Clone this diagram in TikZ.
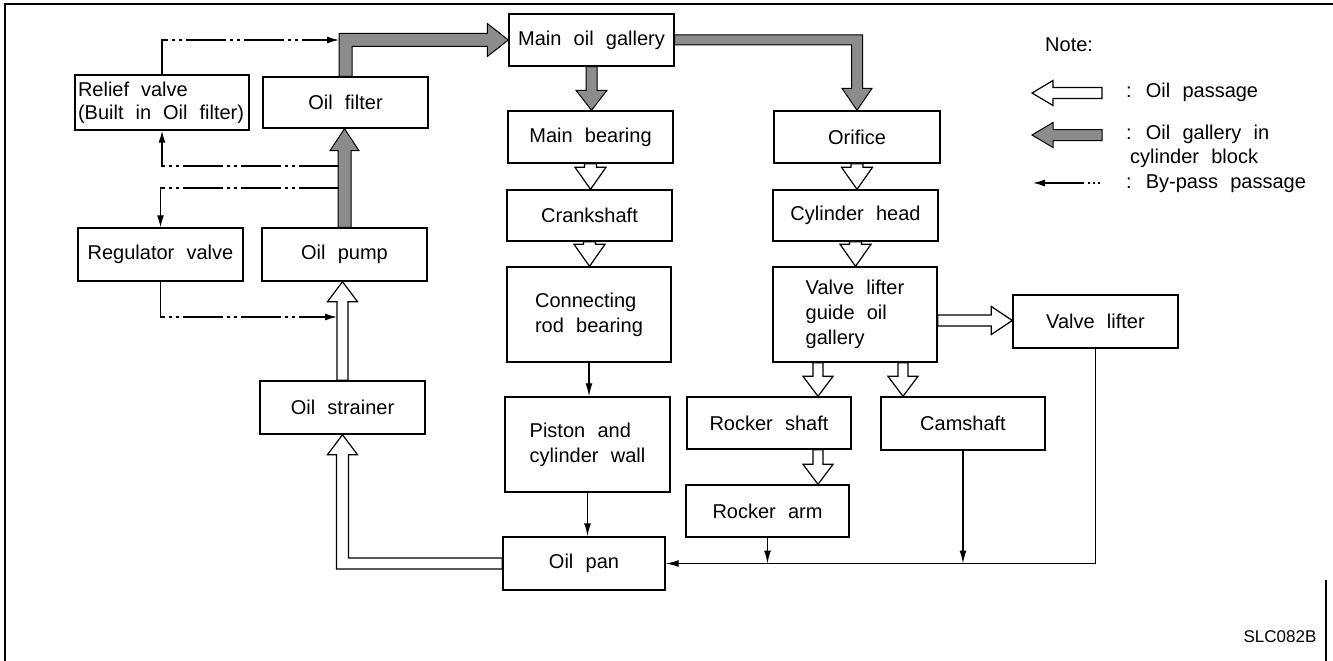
\documentclass[tikz,border=0pt]{standalone}
\usepackage{fontspec}
\setmainfont[WordSpace=2.2]{Liberation Sans}
\usetikzlibrary{calc,arrows.meta}

% #1 style, #2 tail coordinate, #3 tip coordinate, #4 shaft half width, #5 head half width, #6 head length
\newcommand{\fatarrow}[6]{%
  \coordinate (fa-h) at ($(#3)!#6!(#2)$);
  \path[#1] ($(#2)!#4!90:(#3)$) -- ($(fa-h)!#4!-90:(#2)$) -- ($(fa-h)!#5!-90:(#2)$) -- (#3)
    -- ($(fa-h)!#5!90:(#2)$) -- ($(fa-h)!#4!90:(#2)$) -- ($(#2)!#4!-90:(#3)$) -- cycle;}

\begin{document}
\begin{tikzpicture}[x=1pt,y=-1pt,
  box/.style={draw, line width=1.4pt, fill=white, inner sep=0pt, align=center,
    font=\fontsize{20}{25}\selectfont},
  flow/.style={line width=1.3pt, -{Latex[length=13pt,width=7pt]}},
  bypass/.style={line width=1.3pt, dash pattern=on 40pt off 4pt on 3pt off 4pt on 3pt off 4pt,
    -{Latex[length=12pt,width=7pt]}},
  legbypass/.style={line width=1.3pt, dash pattern=on 2pt off 3pt on 2pt off 3pt on 2pt off 4pt on 80pt,
    -{Latex[length=12pt,width=7pt]}},
  passage/.style={draw, line width=1.2pt, fill=white, line join=miter},
  gallery/.style={draw, line width=1pt, fill=black!45, line join=miter},
  lbl/.style={font=\fontsize{20}{25}\selectfont, inner sep=0pt, anchor=west}]
\useasboundingbox (0,0) rectangle (1333,661);

% frame
\draw[line width=1.6pt] (5,661) -- (5,4) -- (1333,4);
\draw[line width=1.5pt] (1326,580) -- (1326,661);

% boxes
\node[box, minimum width=174pt, minimum height=55pt, text width=168pt, align=left] (relief) at (162,102.5)
  {\spaceskip=12pt plus 1pt Relief valve\\[-2pt](Built in Oil filter)};
\node[box, minimum width=165pt, minimum height=51pt] (filter) at (345.5,102.5) {Oil filter};
\node[box, minimum width=165pt, minimum height=52pt] (mog) at (591.5,40) {Main oil gallery};
\node[box, minimum width=165pt, minimum height=52pt] (mb) at (590.5,137) {Main bearing};
\node[box, minimum width=166pt, minimum height=52pt] (orifice) at (857,137) {Orifice};
\node[box, minimum width=165pt, minimum height=51pt] (crank) at (589.5,215.5) {Crankshaft};
\node[box, minimum width=165pt, minimum height=51pt] (cylhead) at (855.5,215.5) {Cylinder head};
\node[box, minimum width=164pt, minimum height=95pt, align=left] (conrod) at (589,314.5) {Connecting\\rod bearing};
\node[box, minimum width=165pt, minimum height=95pt, align=left] (piston) at (587.5,444.5) {Piston and\\cylinder wall};
\node[box, minimum width=162pt, minimum height=53pt] (oilpan) at (584,563.5) {Oil pan};
\node[box, minimum width=164pt, minimum height=95pt, align=left] (vlg) at (855,314.5) {Valve lifter\\guide oil\\gallery};
\node[box, minimum width=165pt, minimum height=53pt] (vlift) at (1095.5,321.5) {Valve lifter};
\node[box, minimum width=164pt, minimum height=52pt] (rshaft) at (769,423) {Rocker shaft};
\node[box, minimum width=164pt, minimum height=53pt] (cam) at (963,423.5) {Camshaft};
\node[box, minimum width=163pt, minimum height=52pt] (rarm) at (767.5,511) {Rocker arm};
\node[box, minimum width=165pt, minimum height=53pt] (regv) at (160.5,254.5) {Regulator valve};
\node[box, minimum width=165pt, minimum height=53pt] (pump) at (344.5,254.5) {Oil pump};
\node[box, minimum width=165pt, minimum height=53pt] (strainer) at (342.5,407.5) {Oil strainer};

% ---- oil galleries (hatched) ----
\coordinate (p1) at (pump.north |- filter.south);
\fatarrow{gallery}{pump.north}{p1}{6.5pt}{14.5pt}{22pt}
\coordinate (p2) at (mog.south |- mb.north);
\fatarrow{gallery}{mog.south}{p2}{5.5pt}{15.5pt}{20pt}
% filter -> main oil gallery (up, then right)
\coordinate (fS) at (filter.north);
\coordinate (fC) at (filter.north |- mog.west);
\coordinate (fT) at (mog.west);
\path[gallery] ($(fS)+(-6.5,0)$) -- ($(fC)+(-6.5,-6.5)$) -- ($(fT)+(-21,-6.5)$) -- ($(fT)+(-21,-16.5)$)
  -- (fT) -- ($(fT)+(-21,16.5)$) -- ($(fT)+(-21,6.5)$) -- ($(fC)+(6.5,6.5)$) -- ($(fS)+(6.5,0)$) -- cycle;
% main oil gallery -> orifice (right, then down)
\coordinate (gS) at (mog.east);
\coordinate (gC) at (orifice.north |- mog.east);
\coordinate (gT) at (orifice.north);
\path[gallery] ($(gS)+(0,-5)$) -- ($(gC)+(5.5,-5)$) -- ($(gT)+(5.5,-22)$) -- ($(gT)+(15,-22)$)
  -- (gT) -- ($(gT)+(-15,-22)$) -- ($(gT)+(-5.5,-22)$) -- ($(gC)+(-5.5,5)$) -- ($(gS)+(0,5)$) -- cycle;

% ---- oil passages (white) ----
\coordinate (q1) at (mb.south |- crank.north);
\fatarrow{passage}{mb.south}{q1}{6pt}{15.5pt}{22pt}
\coordinate (q2) at (orifice.north |- cylhead.north);
\fatarrow{passage}{orifice.south}{q2}{6pt}{15.5pt}{22pt}
\coordinate (q3) at (crank.south |- conrod.north);
\fatarrow{passage}{crank.south}{q3}{6pt}{15.5pt}{22pt}
\coordinate (q4) at (cylhead.south |- vlg.north);
\fatarrow{passage}{cylhead.south}{q4}{6pt}{15.5pt}{22pt}
\coordinate (q5s) at ([xshift=-37pt]vlg.south);
\coordinate (q5) at (q5s |- rshaft.north);
\fatarrow{passage}{q5s}{q5}{5pt}{15pt}{20pt}
\coordinate (q6s) at ([xshift=48pt]vlg.south);
\coordinate (q6) at (q6s |- cam.north);
\fatarrow{passage}{q6s}{q6}{5pt}{15pt}{20pt}
\coordinate (q7s) at ([xshift=49pt]rshaft.south);
\coordinate (q7) at (q7s |- rarm.north);
\fatarrow{passage}{q7s}{q7}{5pt}{15pt}{20pt}
\coordinate (q8s) at ([yshift=-6pt]vlg.east);
\coordinate (q8) at (q8s -| vlift.west);
\fatarrow{passage}{q8s}{q8}{5.5pt}{14pt}{21pt}
\coordinate (q9) at (strainer.north |- pump.south);
\fatarrow{passage}{strainer.north}{q9}{5.5pt}{15pt}{20pt}
% oil pan -> oil strainer (left, then up)
\coordinate (sS) at (oilpan.west);
\coordinate (sC) at (strainer.south |- oilpan.west);
\coordinate (sT) at (strainer.south);
\path[passage] ($(sS)+(0,-5.5)$) -- ($(sC)+(6,-5.5)$) -- ($(sT)+(6,20)$) -- ($(sT)+(15,20)$)
  -- (sT) -- ($(sT)+(-15,20)$) -- ($(sT)+(-6,20)$) -- ($(sC)+(-6,5.5)$) -- ($(sS)+(0,5.5)$) -- cycle;

% ---- thin return lines ----
\draw[flow] (conrod.south) -- (conrod.south |- piston.north);
\draw[flow] (piston.south) -- (piston.south |- oilpan.north);
\draw[flow] (vlift.south) |- (oilpan.east);
\draw[flow] (cam.south) -- (cam.south |- oilpan.east);
\draw[flow] (rarm.south) -- (rarm.south |- oilpan.east);

% ---- by-pass passages ----
\coordinate (tapD) at ($(filter.north |- mog.west)+(-6.5,0)$);
\coordinate (tapA) at (338.5,166);
\coordinate (tapB) at (338.5,188);
\coordinate (tapC) at (337,317);
\draw[bypass] (relief.north) |- (tapD);
\draw[bypass] (tapA) -| (relief.south);
\draw[bypass] (tapB) -| (regv.north);
\draw[bypass] (regv.south) |- (tapC);

% ---- legend ----
\node[lbl] (note) at (1045,45) {Note:};
\coordinate (lg1t) at (1102,93);
\coordinate (lg1h) at (1032,93);
\fatarrow{passage}{lg1t}{lg1h}{5.5pt}{12.5pt}{21pt}
\node[lbl] (lg1) at (1126,92) {: Oil passage};
\coordinate (lg2t) at (1102,135);
\coordinate (lg2h) at (1032,135);
\fatarrow{gallery}{lg2t}{lg2h}{5.5pt}{12.5pt}{21pt}
\node[lbl] (lg2) at (1126,134) {: Oil gallery in};
\node[lbl] (lg2b) at (1130,158) {cylinder block};
\coordinate (lg3t) at (1100,183);
\coordinate (lg3h) at (1033,183);
\draw[legbypass] (lg3t) -- (lg3h);
\node[lbl] (lg3) at (1126,184) {: By-pass passage};

\node[font=\fontsize{17}{20}\selectfont, inner sep=0pt] (code) at (1280,637) {SLC082B};
\end{tikzpicture}
\end{document}
